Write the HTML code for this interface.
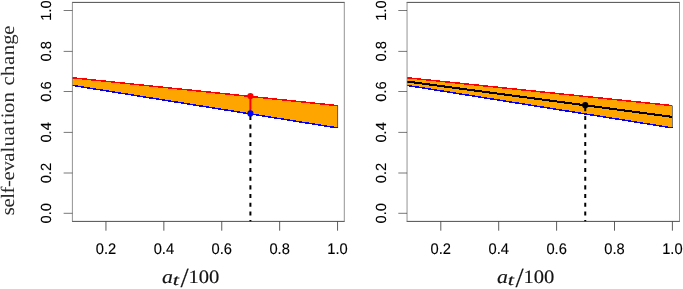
<!DOCTYPE html>
<html><head><meta charset="utf-8"><title>self-evaluation change</title>
<style>
html,body{margin:0;padding:0;background:#fff;}
svg{display:block;}
.tk{font-family:"Liberation Sans",Arial,sans-serif;font-size:15.4px;text-rendering:geometricPrecision;fill:#000;stroke:#000;stroke-width:0.12px;}
.lb{font-family:"Liberation Serif","Times New Roman",serif;font-size:19px;fill:#2a2a2a;text-rendering:geometricPrecision;}
.xl{fill:#141414;stroke:#141414;stroke-width:0.15px;}
</style></head><body>
<svg width="683" height="289" viewBox="0 0 683 289">
<rect x="0" y="0" width="683" height="289" fill="#fff"/>
<polygon points="72.4,77.75 337.6,105.6 337.6,127.9 72.4,85.4" fill="#ffa500" shape-rendering="crispEdges"/>
<line x1="337.6" y1="105.6" x2="337.6" y2="127.9" stroke="#333" stroke-width="0.7"/>
<line x1="72.4" y1="77.75" x2="337.6" y2="105.6" stroke="#ff0000" stroke-width="1.5" shape-rendering="crispEdges"/>
<line x1="72.4" y1="85.4" x2="337.6" y2="127.9" stroke="#0000ff" stroke-width="1.5" shape-rendering="crispEdges"/>
<line x1="250.4" y1="113.4" x2="250.4" y2="221.4" stroke="#000" stroke-width="2" stroke-dasharray="4.05 4.63" stroke-dashoffset="6.18"/>
<line x1="250.4" y1="96" x2="250.4" y2="113.4" stroke="#ff0000" stroke-width="2"/>
<circle cx="250.4" cy="96" r="3.1" fill="#ff0000"/>
<circle cx="250.4" cy="113.4" r="3.1" fill="#0000ff"/>
<line x1="72.0" y1="2.4" x2="344.7" y2="2.4" stroke="#3a3a3a" stroke-width="0.9"/>
<line x1="72.0" y1="221.4" x2="344.7" y2="221.4" stroke="#3a3a3a" stroke-width="0.9"/>
<line x1="72.4" y1="2.4" x2="72.4" y2="221.4" stroke="#808080" stroke-width="0.85"/>
<line x1="344.3" y1="2.4" x2="344.3" y2="221.4" stroke="#808080" stroke-width="0.85"/>
<line x1="63.650000000000006" y1="213.30" x2="72.4" y2="213.30" stroke="#303030" stroke-width="0.65"/>
<text class="tk" transform="translate(51.3,213.30) rotate(-90) scale(0.955,0.95)" text-anchor="middle">0.0</text>
<line x1="63.650000000000006" y1="173.00" x2="72.4" y2="173.00" stroke="#303030" stroke-width="0.65"/>
<text class="tk" transform="translate(51.3,173.00) rotate(-90) scale(0.955,0.95)" text-anchor="middle">0.2</text>
<line x1="63.650000000000006" y1="132.40" x2="72.4" y2="132.40" stroke="#303030" stroke-width="0.65"/>
<text class="tk" transform="translate(51.3,132.40) rotate(-90) scale(0.955,0.95)" text-anchor="middle">0.4</text>
<line x1="63.650000000000006" y1="91.50" x2="72.4" y2="91.50" stroke="#303030" stroke-width="0.65"/>
<text class="tk" transform="translate(51.3,91.50) rotate(-90) scale(0.955,0.95)" text-anchor="middle">0.6</text>
<line x1="63.650000000000006" y1="51.40" x2="72.4" y2="51.40" stroke="#303030" stroke-width="0.65"/>
<text class="tk" transform="translate(51.3,51.40) rotate(-90) scale(0.955,0.95)" text-anchor="middle">0.8</text>
<line x1="63.650000000000006" y1="10.50" x2="72.4" y2="10.50" stroke="#303030" stroke-width="0.65"/>
<text class="tk" transform="translate(51.3,10.50) rotate(-90) scale(0.955,0.95)" text-anchor="middle">1.0</text>
<line x1="105.95" y1="221.4" x2="105.95" y2="230.70000000000002" stroke="#404040" stroke-width="0.85"/>
<text class="tk" transform="translate(105.95,254.0) scale(0.955,1)" text-anchor="middle">0.2</text>
<line x1="163.85" y1="221.4" x2="163.85" y2="230.70000000000002" stroke="#404040" stroke-width="0.85"/>
<text class="tk" transform="translate(163.85,254.0) scale(0.955,1)" text-anchor="middle">0.4</text>
<line x1="221.75" y1="221.4" x2="221.75" y2="230.70000000000002" stroke="#404040" stroke-width="0.85"/>
<text class="tk" transform="translate(221.75,254.0) scale(0.955,1)" text-anchor="middle">0.6</text>
<line x1="279.65" y1="221.4" x2="279.65" y2="230.70000000000002" stroke="#404040" stroke-width="0.85"/>
<text class="tk" transform="translate(279.65,254.0) scale(0.955,1)" text-anchor="middle">0.8</text>
<line x1="337.55" y1="221.4" x2="337.55" y2="230.70000000000002" stroke="#404040" stroke-width="0.85"/>
<text class="tk" transform="translate(337.55,254.0) scale(0.955,1)" text-anchor="middle">1.0</text>
<text class="lb xl" font-style="italic" transform="translate(162.0,282.5) scale(1.15,1)">a</text>
<text class="lb xl" font-style="italic" style="font-size:15px" transform="translate(172.8,285.4) scale(1.5,1.04)">t</text>
<text class="lb xl" style="font-size:27.6px" transform="translate(180.5,287.0) scale(1.06,1)">/</text>
<text class="lb xl" transform="translate(188.5,282.5) scale(1.085,1)">100</text>
<text class="lb" transform="translate(14.3,215.1) rotate(-90) scale(1.09,1)" x="-0.12 6.97 15.11 19.89 25.69 31.69 39.99 48.86 57.50 62.97 73.09 82.74 88.80 93.76 103.35 113.80 119.01 127.56 137.69 146.75 156.34 165.44">self-evaluation change</text>
<polygon points="407.05,77.75 672.45,105.6 672.45,127.9 407.05,85.4" fill="#ffa500" shape-rendering="crispEdges"/>
<line x1="672.45" y1="105.6" x2="672.45" y2="127.9" stroke="#333" stroke-width="0.7"/>
<line x1="407.05" y1="77.75" x2="672.45" y2="105.6" stroke="#ff0000" stroke-width="1.5" shape-rendering="crispEdges"/>
<line x1="407.05" y1="85.4" x2="672.45" y2="127.9" stroke="#0000ff" stroke-width="1.5" shape-rendering="crispEdges"/>
<line x1="407.05" y1="81.5" x2="672.45" y2="116.9" stroke="#000" stroke-width="2.05" shape-rendering="crispEdges"/>
<line x1="585.25" y1="105" x2="585.25" y2="221.4" stroke="#000" stroke-width="2" stroke-dasharray="4.05 4.63" stroke-dashoffset="6.46"/>
<circle cx="585.25" cy="105.2" r="3.1" fill="#000"/>
<line x1="406.65000000000003" y1="2.4" x2="679.9" y2="2.4" stroke="#3a3a3a" stroke-width="0.9"/>
<line x1="406.65000000000003" y1="221.4" x2="679.9" y2="221.4" stroke="#3a3a3a" stroke-width="0.9"/>
<line x1="407.05" y1="2.4" x2="407.05" y2="221.4" stroke="#808080" stroke-width="0.85"/>
<line x1="679.5" y1="2.4" x2="679.5" y2="221.4" stroke="#808080" stroke-width="0.85"/>
<line x1="398.3" y1="213.30" x2="407.05" y2="213.30" stroke="#303030" stroke-width="0.65"/>
<text class="tk" transform="translate(386.15000000000003,213.30) rotate(-90) scale(0.955,0.95)" text-anchor="middle">0.0</text>
<line x1="398.3" y1="173.00" x2="407.05" y2="173.00" stroke="#303030" stroke-width="0.65"/>
<text class="tk" transform="translate(386.15000000000003,173.00) rotate(-90) scale(0.955,0.95)" text-anchor="middle">0.2</text>
<line x1="398.3" y1="132.40" x2="407.05" y2="132.40" stroke="#303030" stroke-width="0.65"/>
<text class="tk" transform="translate(386.15000000000003,132.40) rotate(-90) scale(0.955,0.95)" text-anchor="middle">0.4</text>
<line x1="398.3" y1="91.50" x2="407.05" y2="91.50" stroke="#303030" stroke-width="0.65"/>
<text class="tk" transform="translate(386.15000000000003,91.50) rotate(-90) scale(0.955,0.95)" text-anchor="middle">0.6</text>
<line x1="398.3" y1="51.40" x2="407.05" y2="51.40" stroke="#303030" stroke-width="0.65"/>
<text class="tk" transform="translate(386.15000000000003,51.40) rotate(-90) scale(0.955,0.95)" text-anchor="middle">0.8</text>
<line x1="398.3" y1="10.50" x2="407.05" y2="10.50" stroke="#303030" stroke-width="0.65"/>
<text class="tk" transform="translate(386.15000000000003,10.50) rotate(-90) scale(0.955,0.95)" text-anchor="middle">1.0</text>
<line x1="440.80" y1="221.4" x2="440.80" y2="230.70000000000002" stroke="#404040" stroke-width="0.85"/>
<text class="tk" transform="translate(440.80,254.0) scale(0.955,1)" text-anchor="middle">0.2</text>
<line x1="498.70" y1="221.4" x2="498.70" y2="230.70000000000002" stroke="#404040" stroke-width="0.85"/>
<text class="tk" transform="translate(498.70,254.0) scale(0.955,1)" text-anchor="middle">0.4</text>
<line x1="556.60" y1="221.4" x2="556.60" y2="230.70000000000002" stroke="#404040" stroke-width="0.85"/>
<text class="tk" transform="translate(556.60,254.0) scale(0.955,1)" text-anchor="middle">0.6</text>
<line x1="614.50" y1="221.4" x2="614.50" y2="230.70000000000002" stroke="#404040" stroke-width="0.85"/>
<text class="tk" transform="translate(614.50,254.0) scale(0.955,1)" text-anchor="middle">0.8</text>
<line x1="672.40" y1="221.4" x2="672.40" y2="230.70000000000002" stroke="#404040" stroke-width="0.85"/>
<text class="tk" transform="translate(672.40,254.0) scale(0.955,1)" text-anchor="middle">1.0</text>
<text class="lb xl" font-style="italic" transform="translate(497.0,282.5) scale(1.15,1)">a</text>
<text class="lb xl" font-style="italic" style="font-size:15px" transform="translate(507.8,285.4) scale(1.5,1.04)">t</text>
<text class="lb xl" style="font-size:27.6px" transform="translate(515.5,287.0) scale(1.06,1)">/</text>
<text class="lb xl" transform="translate(523.5,282.5) scale(1.085,1)">100</text>
</svg>
</body></html>
